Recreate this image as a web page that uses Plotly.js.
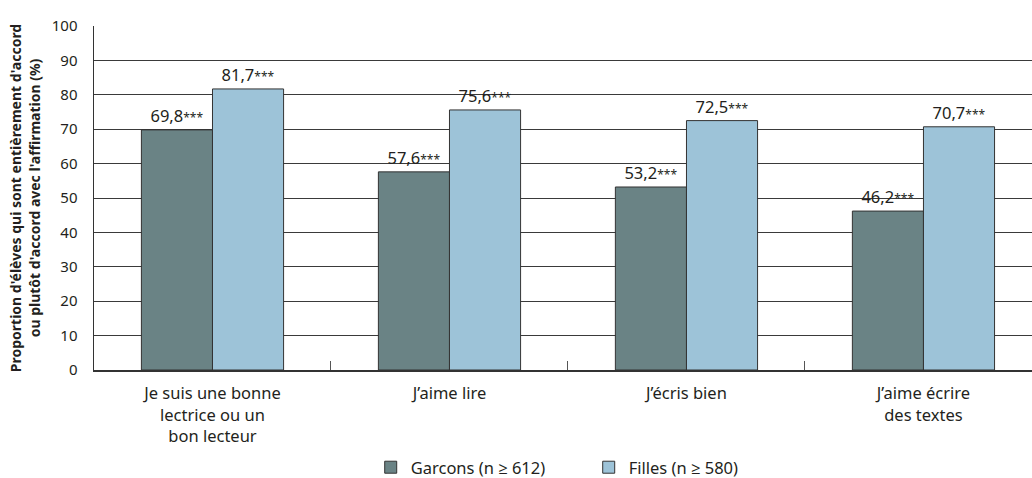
<!DOCTYPE html>
<html>
<head>
<meta charset="utf-8">
<script src="https://cdn.plot.ly/plotly-3.0.1.min.js"></script>
<style>
  html, body { margin: 0; padding: 0; background: #fff; overflow: hidden; }
  #chart { width: 1032px; height: 478px; }
</style>
</head>
<body>
<div id="chart"></div>
<script>
const categories = [
  "Je suis une bonne<br>lectrice ou un<br>bon lecteur",
  "J\u2019aime lire",
  "J\u2019\u00e9cris bien",
  "J\u2019aime \u00e9crire<br>des textes"
];
const garconsValues = [69.8, 57.6, 53.2, 46.2];
const fillesValues = [81.7, 75.6, 72.5, 70.7];
const significance = ["***", "***", "***", "***"];
const yTickValues = [0, 10, 20, 30, 40, 50, 60, 70, 80, 90, 100];
const seriesNames = ["Garcons (n \u2265 612)", "Filles (n \u2265 580)"];

const fmt = (v, s) => v.toFixed(1).replace(".", ",") + "<span style=\"font-size:12px\">" + s + "</span>";
const FONT = "Noto Sans, Open Sans, sans-serif";

const mkTrace = (name, vals, color) => ({
  type: "bar",
  name: name,
  x: categories,
  y: vals,
  text: vals.map((v, i) => fmt(v, significance[i])),
  textposition: "outside",
  textfont: { family: FONT, size: 16.5, color: "#231f20" },
  cliponaxis: false,
  marker: { color: color, line: { color: "#333333", width: 1 } },
  hoverinfo: "none"
});

const traces = [
  mkTrace(seriesNames[0], garconsValues, "#6a8385"),
  mkTrace(seriesNames[1], fillesValues, "#9dc3d8")
];

const layout = {
  width: 1032,
  height: 478,
  margin: { l: 94, r: 0, t: 26, b: 108 },
  paper_bgcolor: "#ffffff",
  plot_bgcolor: "#ffffff",
  font: { family: FONT, color: "#231f20", size: 15 },
  barmode: "group",
  bargap: 0.4,
  bargroupgap: 0,
  showlegend: true,
  legend: {
    orientation: "h",
    xref: "paper",
    x: 0.295, xanchor: "left",
    yref: "container",
    y: 0.022, yanchor: "middle",
    entrywidth: 173,
    entrywidthmode: "pixels",
    font: { family: FONT, size: 16.5, color: "#231f20" },
    traceorder: "normal"
  },
  xaxis: {
    type: "category",
    range: [-0.5, 3.458],
    tickson: "boundaries",
    ticks: "inside",
    ticklen: 9,
    tickcolor: "#555555",
    showline: true,
    linecolor: "#333333",
    linewidth: 1.5,
    showgrid: false,
    automargin: false,
    ticklabelstandoff: 8,
    tickfont: { family: FONT, size: 16.5, color: "#231f20" },
    fixedrange: true
  },
  yaxis: {
    range: [0, 100],
    tickvals: yTickValues,
    ticks: "",
    showline: true,
    linecolor: "#333333",
    linewidth: 1.5,
    showgrid: true,
    gridcolor: "#3a3a3a",
    gridwidth: 1,
    zeroline: false,
    automargin: false,
    tickfont: { family: FONT, size: 15, color: "#231f20" },
    ticklabelstandoff: 12,
    title: {
      text: "<b>Proportion d'élèves qui sont entièrement d'accord<br>ou plutôt d'accord avec l'affirmation (%)</b>",
      font: { family: FONT, size: 14, color: "#231f20" },
      standoff: 8
    },
    fixedrange: true
  }
};

Plotly.newPlot("chart", traces, layout, { displayModeBar: false, staticPlot: true });
</script>
</body>
</html>
